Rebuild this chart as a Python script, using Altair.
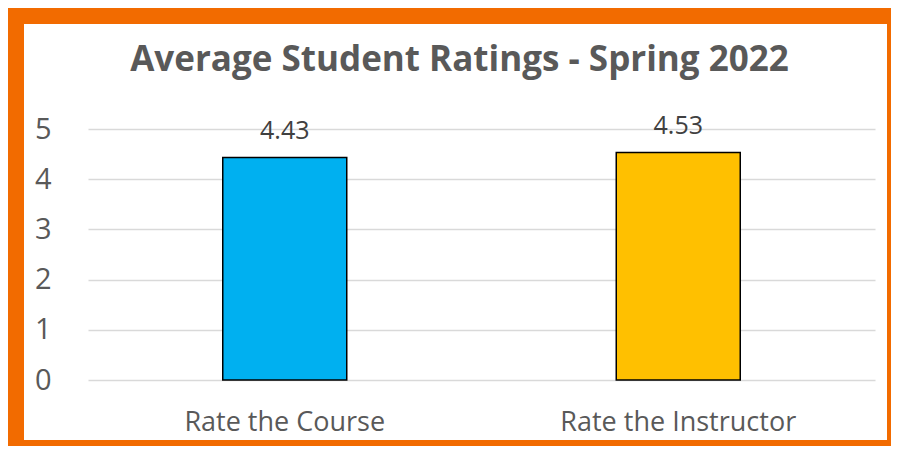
import altair as alt
import pandas as pd

categories = ["Rate the Course", "Rate the Instructor"]
ratings = [4.43, 4.53]
colors = ["#00B0F0", "#FFC000"]
y_ticks = [0, 1, 2, 3, 4, 5]
title_text = "Average Student Ratings - Spring 2022"

df = pd.DataFrame({"category": categories, "rating": ratings, "color": colors})

W, H = 787, 251
PL, PT, PR, PB = 80, 121, 16, 66
ORANGE = "#F26B00"
FONT = "Open Sans"

base = alt.Chart(df)

bars = base.mark_bar(width=124, stroke="black", strokeWidth=1.5).encode(
    x=alt.X("category:N", sort=categories, title=None,
            axis=alt.Axis(labelAngle=0, labelFontSize=27, labelColor="#595959",
                          labelFont=FONT, domain=False, ticks=False, labelLimit=0,
                          labelPadding=50, labelBaseline="alphabetic")),
    y=alt.Y("rating:Q", scale=alt.Scale(domain=[0, 5]), title=None,
            axis=alt.Axis(values=y_ticks, labelFontSize=29, labelColor="#595959",
                          labelFont=FONT, domain=False, ticks=False,
                          labelPadding=37, gridColor="#D9D9D9", gridWidth=1.5)),
    fill=alt.Color("color:N", scale=None),
)

labels = base.mark_text(fontSize=25, font=FONT, color="#404040",
                        baseline="alphabetic", dy=-19).encode(
    x=alt.X("category:N", sort=categories),
    y="rating:Q",
    text=alt.Text("rating:Q", format=".2f"),
)

one = alt.Data(values=[{"a": 1}])

def border(x, x2, y, y2):
    return alt.Chart(one).mark_rect(fill=ORANGE).encode(
        x=alt.value(x), x2=alt.value(x2), y=alt.value(y), y2=alt.value(y2))

left = border(-PL, -PL + 16, -PT, H + PB)
top = border(-PL, W + PR, -PT, -PT + 16)
right = border(W + PR - 4, W + PR, -PT, H + PB)
bottom = border(-PL, W + PR, H + PB - 6, H + PB)

chart = alt.layer(bars, labels, left, top, right, bottom).properties(
    width=W, height=H,
    title=alt.TitleParams(title_text, font=FONT, fontSize=35, fontWeight="bold",
                          color="#595959", anchor="middle", frame="group", dx=-22,
                          baseline="alphabetic", offset=-98),
    autosize=alt.AutoSizeParams(type="none"),
    padding={"left": PL, "top": PT, "right": PR, "bottom": PB},
    background="white",
).configure_view(stroke=None)

chart.save("out.html", embed_options={"renderer": "svg", "actions": False})
